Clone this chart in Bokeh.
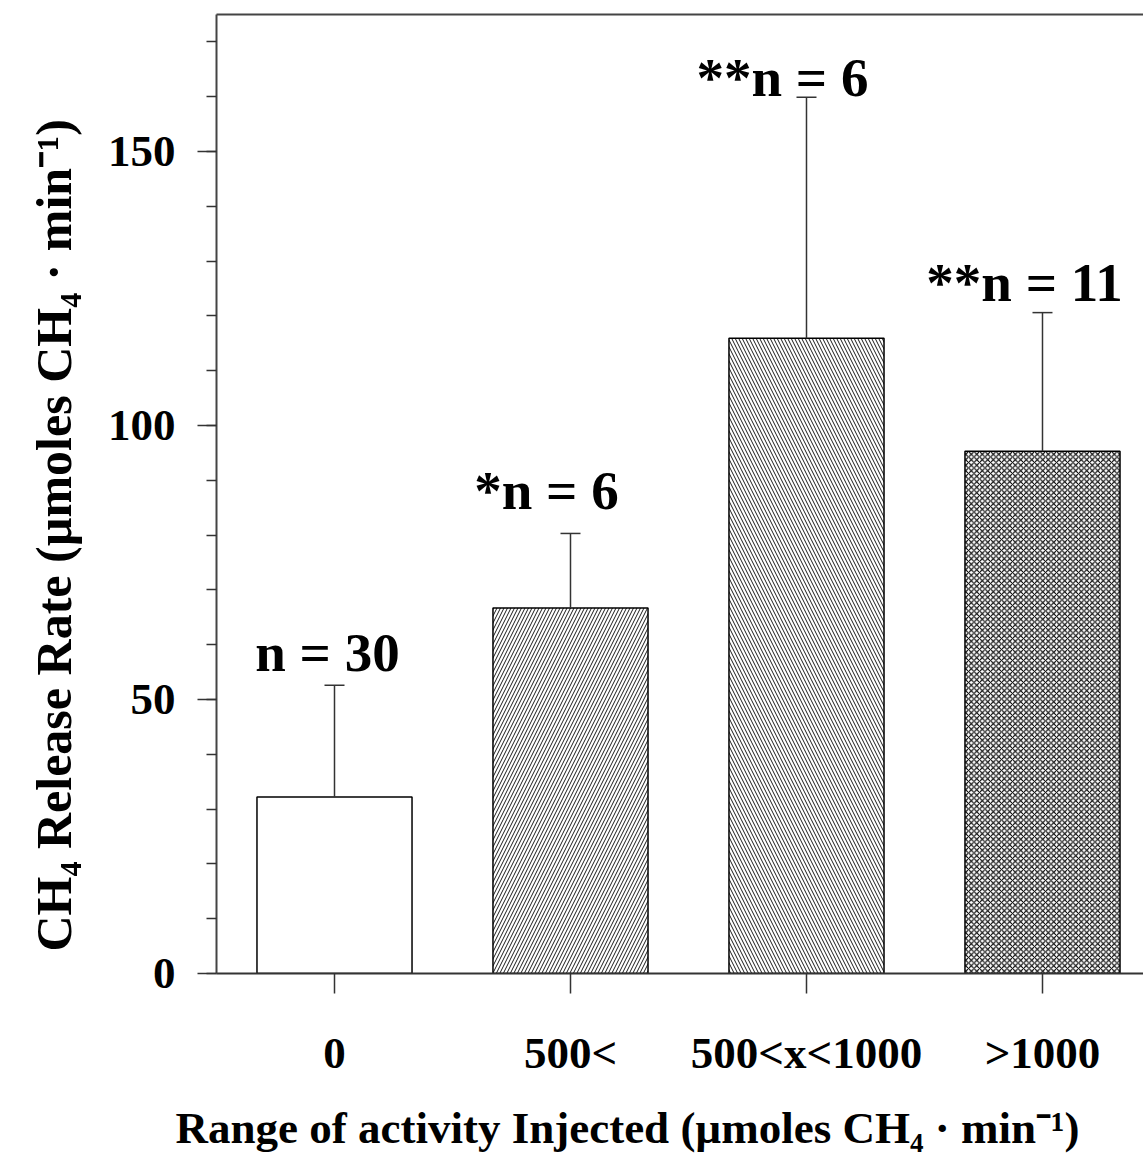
from bokeh.plotting import figure
from bokeh.models import (ColumnDataSource, Range1d, FixedTicker, LinearAxis,
                          Whisker, TeeHead, Label, Title)
from bokeh.embed import file_html
from bokeh.resources import INLINE

# ---- data ----
categories = ["0", "500<", "500<x<1000", ">1000"]
means = [32.2, 66.7, 115.9, 95.3]
errors = [20.4, 13.6, 44.0, 25.3]
labels = ["n = 30", "*n = 6", "**n = 6", "**n = 11"]
hatches = [" ", "/", "\\", "x"]
x_title = "Range of activity Injected (µmoles CH₄ · min⁻¹)"
y_title = "CH₄ Release Rate (µmoles CH₄ · min⁻¹)"

# ---- style ----
label_x_offsets = [-7, -24, -24, -18]
label_y_offsets = [-33, -43, -20, -30]
hatch_scales = [7, 7, 7, 5.5]
hatch_weights = [0.9, 0.9, 0.9, 1.1]
FONT = "Liberation Serif"

xs = list(range(len(categories)))
tops = [m + e for m, e in zip(means, errors)]

src = ColumnDataSource(dict(x=xs, top=means, upper=tops, lower=means,
                            hatch=hatches, hscale=hatch_scales,
                            hweight=hatch_weights))

p = figure(width=1143, height=1172, output_backend="svg", toolbar_location=None,
           x_range=Range1d(-0.5, 3.428), y_range=Range1d(0, 175),
           min_border_left=216, min_border_right=0, min_border_top=14,
           min_border_bottom=199)
p.outline_line_color = None
p.grid.visible = False
p.background_fill_color = "white"
p.border_fill_color = "white"

p.vbar(x="x", top="top", bottom=0, width=0.657, source=src,
       fill_color="white", line_color="black", line_width=1.5,
       hatch_pattern="hatch", hatch_color="black", hatch_scale="hscale",
       hatch_weight="hweight")

w = Whisker(base="x", upper="upper", lower="lower", source=src,
            upper_head=TeeHead(size=20, line_color="#333333", line_width=1.5),
            lower_head=None, line_color="#333333", line_width=1.5, level="glyph")
p.add_layout(w)

for i in range(len(categories)):
    p.add_layout(Label(x=xs[i], y=tops[i], text=labels[i], text_align="center",
                       text_baseline="alphabetic", x_offset=label_x_offsets[i],
                       y_offset=-label_y_offsets[i], text_font=FONT,
                       text_font_style="bold", text_font_size="55px",
                       text_color="black"))

# x axis
xa = p.xaxis[0]
xa.ticker = FixedTicker(ticks=xs)
xa.major_label_overrides = {i: c for i, c in enumerate(categories)}
xa.minor_tick_line_color = None
xa.major_tick_out = 20
xa.major_tick_in = 0
xa.major_tick_line_width = 1.5
xa.major_tick_line_color = "#333333"
xa.axis_line_width = 2
xa.axis_line_color = "#333333"
xa.major_label_text_font = FONT
xa.major_label_text_font_style = "bold"
xa.major_label_text_font_size = "45px"
xa.major_label_text_color = "black"
xa.major_label_standoff = 34

# y axis
ya = p.yaxis[0]
ya.ticker = FixedTicker(ticks=[0, 50, 100, 150],
                        minor_ticks=list(range(0, 180, 10)))
ya.major_tick_out = 19
ya.major_tick_in = 0
ya.minor_tick_out = 10
ya.minor_tick_in = 0
ya.major_tick_line_width = 1.5
ya.minor_tick_line_width = 1.5
ya.major_tick_line_color = "#333333"
ya.minor_tick_line_color = "#333333"
ya.axis_line_width = 2
ya.axis_line_color = "#444444"
ya.major_label_text_font = FONT
ya.major_label_text_font_style = "bold"
ya.major_label_text_font_size = "45px"
ya.major_label_text_color = "black"
ya.major_label_standoff = 22

# axis titles as side titles (allow offset from frame edge)
p.add_layout(Title(text=x_title, align="left", offset=-41, standoff=40,
                   text_font=FONT, text_font_style="bold",
                   text_font_size="45px", text_color="black"), "below")
p.add_layout(Title(text=y_title, align="left", offset=22, standoff=46,
                   text_font=FONT, text_font_style="bold",
                   text_font_size="50px", text_color="black"), "left")

# top line
top_axis = LinearAxis(ticker=FixedTicker(ticks=[]), axis_line_width=2,
                      axis_line_color="#444444", major_label_text_font_size="0px",
                      major_tick_out=0, minor_tick_out=0)
p.add_layout(top_axis, "above")

open("out.html", "w").write(file_html(p, INLINE))
